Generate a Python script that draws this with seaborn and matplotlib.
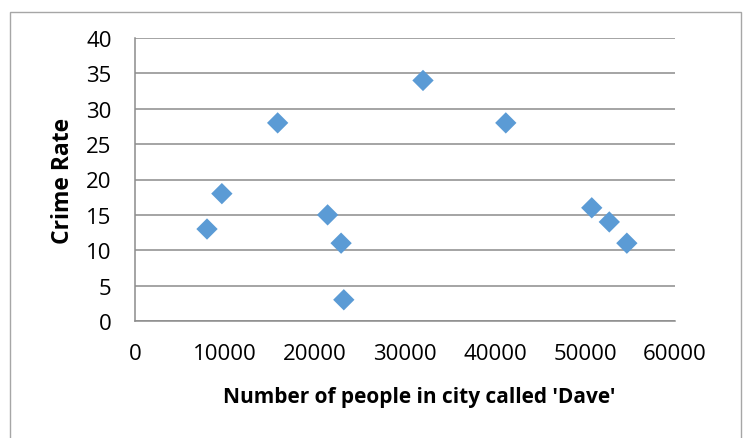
import matplotlib
matplotlib.use("Agg")
import matplotlib.pyplot as plt
from matplotlib.patches import Rectangle
import seaborn as sns
import pandas as pd

# Number of residents called 'Dave' per city and the recorded crime rate
daves = [8000, 9650, 15850, 21400, 22900, 23200, 32000, 41200, 50750, 52700, 54650]
crime_rate = [13, 18, 28, 15, 11, 3, 34, 28, 16, 14, 11]

x_ticks = [0, 10000, 20000, 30000, 40000, 50000, 60000]
y_ticks = [0, 5, 10, 15, 20, 25, 30, 35, 40]

df = pd.DataFrame({"daves": daves, "crime": crime_rate})

sns.set_theme(style="white")
plt.rcParams["font.family"] = ["Open Sans", "DejaVu Sans"]

grid_col = "#8C8C8C"
fig = plt.figure(figsize=(7.44, 4.39), dpi=100)
ax = fig.add_axes([135 / 744, 1 - 322 / 439, 540 / 744, 283 / 439])

sns.scatterplot(data=df, x="daves", y="crime", marker="D", s=118,
                color="#5B9BD5", edgecolor="none", linewidth=0, ax=ax,
                zorder=3, clip_on=False)

ax.set_xlim(0, 60000)
ax.set_ylim(0, 40)
ax.set_xticks(x_ticks)
ax.set_yticks(y_ticks)
ax.set_xticklabels([str(v) for v in x_ticks])
ax.set_yticklabels([str(v) for v in y_ticks])

ax.yaxis.grid(True, color=grid_col, linewidth=1.1)
ax.xaxis.grid(False)
ax.set_axisbelow(True)

for side in ["top", "right"]:
    ax.spines[side].set_visible(False)
for side in ["left", "bottom"]:
    ax.spines[side].set_color(grid_col)
    ax.spines[side].set_linewidth(1.1)

ax.tick_params(axis="both", which="major", direction="out", length=5.8,
               width=1.1, color=grid_col, labelsize=16, labelcolor="black")
ax.tick_params(axis="y", pad=11)
ax.tick_params(axis="x", pad=10)

ax.set_xlabel("Number of people in city called 'Dave'", fontsize=15,
              fontweight="bold", color="black", labelpad=16)
ax.xaxis.label.set_x(0.526)
ax.set_ylabel("Crime Rate", fontsize=16.5, fontweight="bold", color="black",
              labelpad=8)

# Chart frame
fig.patches.append(Rectangle((10 / 744, -0.05), 731 / 744, 1 - 13 / 439 + 0.05,
                             transform=fig.transFigure, fill=False,
                             edgecolor="#A6A6A6", linewidth=1.0))

fig.savefig("out.png", dpi=100, facecolor="white")
